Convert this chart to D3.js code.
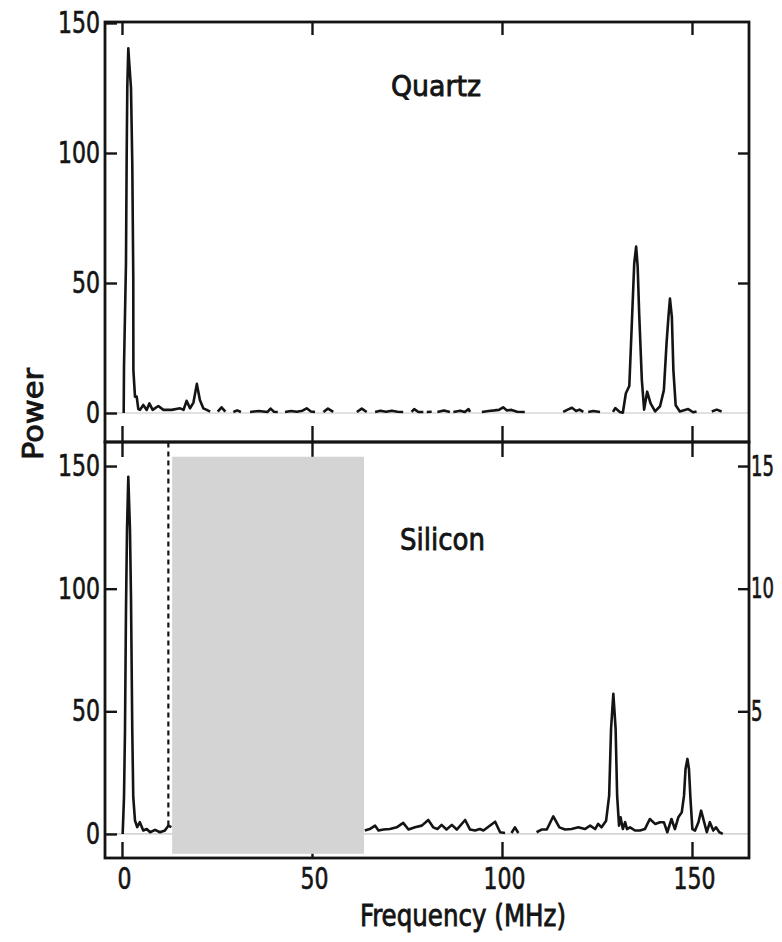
<!DOCTYPE html>
<html>
<head>
<meta charset="utf-8">
<script src="https://cdn.jsdelivr.net/npm/d3@7/dist/d3.min.js"></script>
<style>
  html, body { margin: 0; padding: 0; background: #fff; }
  svg { display: block; }
  text { font-family: "DejaVu Sans Condensed", "DejaVu Sans", "Liberation Sans", sans-serif; fill: #141414; }
</style>
</head>
<body>
<svg id="chart" width="782" height="942"></svg>
<script>
// ---------------- DATA ----------------
const xTicks = [0, 50, 100, 150];
const yTicksLeft = [0, 50, 100, 150];
const yTicksRight = [5, 10, 15];
const topRightTicks = [50, 100];

// Quartz trace (null = no trace drawn)
const quartzFreq = [0.45,0.53,1.05,1.24,1.4,1.66,1.92,2.37,2.71,2.97,3.0,3.42,3.87,4.3,4.74,5.6,6.5,7.2,8.07,9.56,10.9,13.1,15.3,16.2,17.0,17.9,18.8,19.7,20.5,21.4,22.3,23.2,
  24.2,25.2,26.2,27.2,28.3,29.3,30.3,31.3,32.5,33.7,36.0,38.3,39.1,40.0,41.0,42.0,42.9,44.5,46.0,47.5,48.6,49.7,50.8,52.0,53.0,54.2,55.6,58.0,61.8,63.1,64.4,65.5,
  66.6,68.0,69.5,71.0,72.5,74.0,75.0,76.2,76.9,78.0,79.3,79.8,80.2,81.5,82.2,83.0,84.7,86.3,86.8,87.2,89.0,90.2,91.2,91.6,93.0,94.7,96.5,98.0,99.2,100.3,101.3,102.5,104.0,106.0,110.0,
  116.1,117.3,118.4,119.5,120.4,121.4,122.0,122.7,124.0,125.8,127.5,129.2,129.8,131.0,131.8,132.6,133.5,134.1,134.8,135.3,135.7,136.1,136.8,137.4,138.2,139.1,140.3,141.6,142.6,
  143.3,143.8,144.2,144.7,145.1,145.7,146.8,149.0,150.3,151.2,153.0,155.2,156.5,157.8];
const quartzPower = [0,17.8,57.6,100,125.5,140.3,134.5,125,96,52.4,16.5,6.3,6.3,1.5,1.2,3.1,1.2,3.7,1.2,2.7,1.2,1.2,1.8,1.2,4.7,1.8,4.0,11.2,5.0,1.8,1.2,0.5,
  null,0.5,2.2,0.5,null,0.4,1.0,0.4,null,0.4,0.8,0.4,1.7,0.5,0.4,null,0.4,0.8,0.5,0.9,1.8,0.6,0.4,null,0.4,1.7,0.4,null,0.4,1.7,0.4,null,
  0.4,0.9,0.5,0.9,0.5,0.4,null,0.4,1.5,0.4,0.4,null,0.4,0.5,null,0.4,1.0,0.4,null,0.4,0.9,0.4,1.5,0.4,null,0.4,0.8,1.0,1.2,2.2,1.0,1.2,0.5,0.4,null,
  0.4,1.3,2.0,0.8,1.3,0.4,null,0.4,0.8,0.4,null,0.4,1.9,0.4,0.1,7.6,10.4,31.9,57.6,64,56.3,38.3,12.7,1.3,8.2,3.7,0.6,2.6,8.8,
  26.8,37,44,37,16.5,3,0.6,1.5,0.3,0.6,null,0.6,1.3,0.6];

// Silicon trace
const siliconFreq = [0.18,0.53,0.79,1.05,1.32,1.66,2.1,2.37,2.71,2.97,3.42,4.0,4.7,5.6,6.5,7.4,8.7,10.0,11.3,12.2,13.0,13.5,
  63.9,65.2,66.6,67.5,68.8,70.5,72.3,74.0,75.4,77.1,78.9,80.6,81.9,83.0,84.1,85.4,86.8,88.1,90.3,91.6,92.9,94.2,95.1,98.2,99.5,100.8,101.6,102.5,103.4,104.3,106.5,
  109.1,110.4,111.8,113.5,115.1,116.6,118.3,120.1,121.8,123.2,124.5,125.3,126.2,127.4,128.2,128.7,129.3,129.9,130.3,130.8,131.2,131.8,132.4,132.9,133.7,135.0,136.3,137.6,
  138.9,140.3,141.6,142.6,143.5,144.6,145.5,146.4,147.3,147.9,148.3,148.8,149.2,149.6,150.1,150.8,151.7,152.4,153.2,153.9,154.7,155.6,156.3,157.2,158.1];
const siliconPower = [0,15,42,91,124,145.6,124,96.7,42,15,5.5,2.8,4.8,1.4,2.0,0.7,1.7,0.7,1.4,3.4,2.8,null,
  1.4,2.0,3.4,1.4,1.8,2.0,2.7,4.5,1.8,2.7,3.4,5.7,2.7,2.0,3.7,1.8,3.7,1.8,5.7,1.8,1.4,2.0,1.4,5.0,0.7,0.4,null,0.4,2.7,0.4,null,
  0.7,1.8,1.8,7.2,2.7,1.8,2.0,2.7,2.0,3.4,2.0,4.1,2.7,5.4,15.6,42.9,57.1,42.9,15.6,3.4,6.8,2.0,4.8,2.0,2.7,1.4,1.4,2.0,
  6.1,4.1,4.8,4.8,0.7,6.1,2.0,6.8,8.8,15.6,26.5,30.6,26.5,14.3,2.0,1.4,4.8,9.5,4.8,0.7,4.8,1.4,2.7,0.7,0];

// dashed marker in silicon panel (frequency, starting power)
const siliconMarkerFreq = 12.2;
const siliconMarkerPower = 3.4;

// occluding grey box in the silicon panel (data units)
const boxFreq = [13.2, 63.7];
const boxPower = [-8.1, 153.8];

const panelLabels = ["Quartz", "Silicon"];

// ---------------- LAYOUT ----------------
const L = 105, R = 749;
const topY0 = 22, midY = 442, botY1 = 858;
const ink = "#141414";

const svg = d3.select("#chart");
svg.append("rect").attr("width", 782).attr("height", 942).attr("fill", "#fff");

const x = d3.scaleLinear().domain([-4.47, 165]).range([L, R]);
const yTop = d3.scaleLinear().domain([-11.15, 150.38]).range([midY, topY0]);
const yBot = d3.scaleLinear().domain([-9.8, 159.8]).range([botY1, midY]);
const yRight = d3.scaleLinear().domain([-0.98, 15.98]).range([botY1, midY]);

// zero baselines
[yTop, yBot].forEach(ys => {
  svg.append("line")
    .attr("x1", L).attr("x2", R)
    .attr("y1", ys(0)).attr("y2", ys(0))
    .attr("stroke", "#c4c4c4").attr("stroke-width", 1.2);
});

const quartz = quartzFreq.map((f, i) => ({ f, p: quartzPower[i] }));
const silicon = siliconFreq.map((f, i) => ({ f, p: siliconPower[i] }));

const lineTop = d3.line().defined(d => d.p !== null).x(d => x(d.f)).y(d => yTop(d.p));
const lineBot = d3.line().defined(d => d.p !== null).x(d => x(d.f)).y(d => yBot(d.p));

svg.append("path").datum(quartz).attr("d", lineTop)
  .attr("fill", "none").attr("stroke", ink).attr("stroke-width", 2.6).attr("stroke-linejoin", "round");
svg.append("path").datum(silicon).attr("d", lineBot)
  .attr("fill", "none").attr("stroke", ink).attr("stroke-width", 2.6).attr("stroke-linejoin", "round");

// dashed vertical marker
svg.append("line")
  .attr("x1", x(siliconMarkerFreq)).attr("x2", x(siliconMarkerFreq))
  .attr("y1", yBot(siliconMarkerPower)).attr("y2", yBot.range()[1])
  .attr("stroke", ink).attr("stroke-width", 2.2).attr("stroke-dasharray", "5,4");

// frames
svg.append("rect").attr("x", L).attr("y", topY0).attr("width", R - L).attr("height", midY - topY0)
  .attr("fill", "none").attr("stroke", ink).attr("stroke-width", 2.8);
svg.append("rect").attr("x", L).attr("y", midY).attr("width", R - L).attr("height", botY1 - midY)
  .attr("fill", "none").attr("stroke", ink).attr("stroke-width", 2.8);

function styleAxis(digitW) {
  return g => {
    g.select(".domain").remove();
    g.selectAll(".tick line").attr("stroke", ink).attr("stroke-width", 2.4);
    g.selectAll(".tick text")
      .attr("font-size", 30).attr("fill", ink)
      .attr("stroke", ink).attr("stroke-width", 0.6)
      .style("font-family", '"DejaVu Sans Condensed", "DejaVu Sans", sans-serif')
      .attr("textLength", function () { return this.textContent.length * digitW; })
      .attr("lengthAdjust", "spacingAndGlyphs");
  };
}

// x ticks
svg.append("g").attr("transform", `translate(0,${topY0})`)
  .call(d3.axisTop(x).tickValues(xTicks).tickSize(-13).tickFormat("")).call(styleAxis(14));
svg.append("g").attr("transform", `translate(0,${midY})`)
  .call(d3.axisBottom(x).tickValues(xTicks).tickSize(-16).tickFormat("")).call(styleAxis(14));
svg.append("g").attr("transform", `translate(0,${midY})`)
  .call(d3.axisTop(x).tickValues(xTicks).tickSize(-15).tickFormat("")).call(styleAxis(14));
svg.append("g").attr("transform", `translate(0,${botY1})`)
  .call(d3.axisBottom(x).tickValues(xTicks).tickSize(-16).tickPadding(10).tickFormat(d3.format("d")))
  .call(styleAxis(14))
  .call(g => g.selectAll(".tick text").attr("dx", 2));

// y ticks
svg.append("g").attr("transform", `translate(${L},0)`)
  .call(d3.axisLeft(yTop).tickValues(yTicksLeft).tickSize(-12).tickPadding(5).tickFormat(d3.format("d"))).call(styleAxis(14));
svg.append("g").attr("transform", `translate(${R},0)`)
  .call(d3.axisRight(yTop).tickValues(topRightTicks).tickSize(-11).tickFormat("")).call(styleAxis(14));
svg.append("g").attr("transform", `translate(${L},0)`)
  .call(d3.axisLeft(yBot).tickValues(yTicksLeft).tickSize(-12).tickPadding(5).tickFormat(d3.format("d"))).call(styleAxis(14));
svg.append("g").attr("transform", `translate(${R},0)`)
  .call(d3.axisRight(yRight).tickValues(yTicksRight).tickSize(-11).tickPadding(2).tickFormat(d3.format("d")))
  .call(styleAxis(11.5))
  .call(g => g.selectAll(".tick text").attr("font-size", 28));

// text helper: normal weight, slightly thickened
function label(sel) {
  return sel.attr("stroke", ink).attr("stroke-width", 0.8).attr("lengthAdjust", "spacingAndGlyphs");
}

// panel labels
svg.append("text").attr("x", 391).attr("y", 96).attr("font-size", 29)
  .attr("textLength", 90).call(label).text(panelLabels[0]);
svg.append("text").attr("x", 400).attr("y", 550).attr("font-size", 30)
  .attr("textLength", 85).call(label).text(panelLabels[1]);

// axis titles
svg.append("text").attr("transform", "translate(43,414) rotate(-90)")
  .attr("text-anchor", "middle").attr("font-size", 28)
  .attr("textLength", 92).call(label).text("Power");
svg.append("text").attr("x", 463).attr("y", 926)
  .attr("text-anchor", "middle").attr("font-size", 30)
  .attr("textLength", 206).call(label).text("Frequency (MHz)");

// occluding grey box
svg.append("rect")
  .attr("x", x(boxFreq[0])).attr("width", x(boxFreq[1]) - x(boxFreq[0]))
  .attr("y", yBot(boxPower[1])).attr("height", yBot(boxPower[0]) - yBot(boxPower[1]))
  .attr("fill", "#d4d4d4");
</script>
</body>
</html>
